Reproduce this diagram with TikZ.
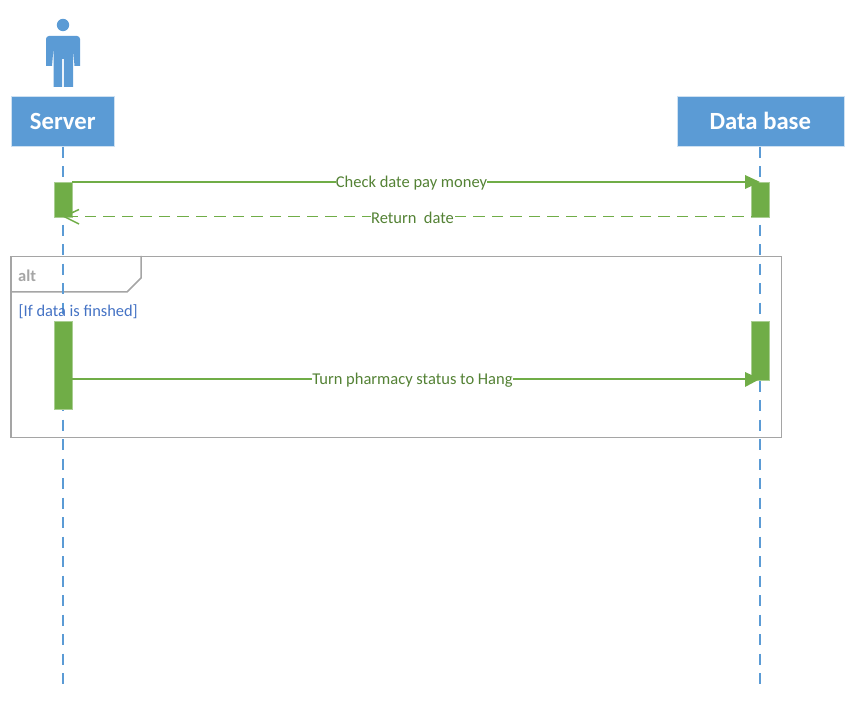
\documentclass[tikz,border=0pt]{standalone}
\usepackage{fontspec}
\setmainfont{Carlito}
\definecolor{hblue}{HTML}{5B9BD5}
\definecolor{agreen}{HTML}{70AD47}
\definecolor{tgreen}{HTML}{548235}
\definecolor{fgray}{HTML}{A5A5A5}
\definecolor{gtext}{HTML}{A5A5A5}
\definecolor{cblue}{HTML}{4472C4}
\tikzset{
 headbox/.style={draw=white!70!hblue,line width=.6pt,fill=hblue,text=white,font=\bfseries\fontsize{24.7}{26}\selectfont,inner sep=0pt,anchor=north west},
 lifeline/.style={hblue,line width=1.5pt,dash pattern=on 11pt off 8.5pt},
 actbar/.style={fill=agreen,draw=white!40!agreen,line width=.3pt,inner sep=0pt,minimum width=18pt,anchor=north},
 msg/.style={agreen,line width=1.5pt},
 msglabel/.style={fill=white,text=tgreen,font=\fontsize{16.5}{18}\selectfont,inner sep=0.4pt,midway,yshift=-1.3pt},
 frameline/.style={fgray,line width=1.5pt}
}
\begin{document}
\begin{tikzpicture}[x=1pt,y=-1pt,line join=miter]
\useasboundingbox (0,0) rectangle (856,708);
% frame
\node[draw=fgray,line width=1.5pt,minimum width=770.5pt,minimum height=180.5pt,inner sep=0pt,anchor=north west] (frame) at (10,256) {};
\draw[frameline] (10,292) -- (127,292) -- (141,278) -- (141,256);
% actor
\fill[hblue] (63,25) circle (6.2);
\fill[hblue] (46,66) -- (46,40) [rounded corners=3pt] -- (46,36) -- (80,36) [sharp corners] -- (80,66) -- (74.5,66) -- (73,48) -- (73,87) -- (63.8,87) -- (63.8,59) -- (62.2,59) -- (62.2,87) -- (53.5,87) -- (53.5,48) -- (52,66) -- cycle;
% heads
\node[headbox,minimum width=103pt,minimum height=50pt] (server) at (11,96) {Server};
\node[headbox,minimum width=167pt,minimum height=50pt] (db) at (676.5,96) {Data base};
\coordinate (serverend) at (62.8,685);
\coordinate (dbend) at (759.8,685);
\draw[lifeline] (server.south -| serverend) -- (serverend);
\draw[lifeline] (db.south -| dbend) -- (dbend);
% alt
\node[text=gtext,font=\bfseries\fontsize{16.5}{18}\selectfont,inner sep=0pt,anchor=west] (alt) at (18,275.5) {alt};
\node[text=cblue,font=\fontsize{16.4}{18}\selectfont,inner sep=0pt,anchor=west] (cond) at (18.5,312) {[If data is finshed]};
% activations
\node[actbar,minimum height=35pt] (a1) at (62.8,182) {};
\node[actbar,minimum height=35pt] (b1) at (759.8,182) {};
\node[actbar,minimum height=88pt] (a2) at (62.8,321) {};
\node[actbar,minimum height=59pt] (b2) at (759.8,321) {};
% messages
\coordinate (m1s) at (72,182);
\coordinate (m1e) at (751,182);
\coordinate (m2s) at (751,216.5);
\coordinate (m2e) at (72,216.5);
\coordinate (m3s) at (72,379);
\coordinate (m3e) at (751,379);
\draw[msg] (m1s) -- node[msglabel] (l1) {Check date pay money} (m1e);
\fill[agreen] (745,175) -- (760,182) -- (745,189) -- cycle;
\draw[msg,dash pattern=on 11.5pt off 7pt,dash phase=11pt] (m2s) -- node[msglabel,xshift=1pt] (l2) {Return\ \ date} (m2e);
\draw[msg] (79,209.5) -- (64,216.5) -- (79,224);
\draw[msg] (m3s) -- node[msglabel,xshift=1pt] (l3) {Turn pharmacy status to Hang} (m3e);
\fill[agreen] (745,372) -- (760,379) -- (745,387) -- cycle;
\end{tikzpicture}
\end{document}
